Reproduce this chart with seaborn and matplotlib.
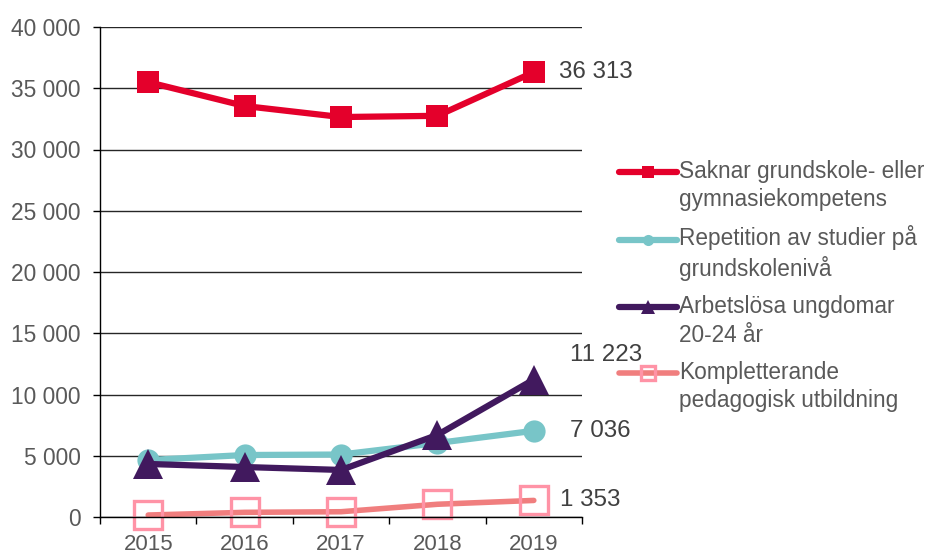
import matplotlib

matplotlib.use("Agg")
import matplotlib.pyplot as plt
import numpy as np
import pandas as pd
import seaborn as sns
from matplotlib.legend_handler import HandlerLine2D
from matplotlib.ticker import FixedLocator, FuncFormatter


years = ["2015", "2016", "2017", "2018", "2019"]
saknar = [35500, 33550, 32650, 32750, 36313]
repetition = [4650, 5060, 5100, 6040, 7036]
arbetslosa = [4330, 4080, 3840, 6700, 11223]
kompletterande = [160, 380, 430, 1040, 1353]

series_names = [
    "Saknar grundskole- eller\ngymnasiekompetens",
    "Repetition av studier på\ngrundskolenivå",
    "Arbetslösa ungdomar\n20-24 år",
    "Kompletterande\npedagogisk utbildning",
]
series_values = [saknar, repetition, arbetslosa, kompletterande]
end_labels = ["36 313", "7 036", "11 223", "1 353"]

sns.set_theme(style="white")
plt.rcParams["font.family"] = ["Liberation Sans", "DejaVu Sans"]

GREY = "#595959"
styles = [
    dict(color="#E4002B", marker="s", ms=16.5, mfc="#E4002B", mec="#E4002B", mew=0, lw=4.5),
    dict(color="#78C5C8", marker="o", ms=16, mfc="#78C5C8", mec="#78C5C8", mew=0, lw=4.5),
    dict(color="#41195E", marker="^", ms=21, mfc="#41195E", mec="#41195E", mew=0, lw=4.5),
    dict(color="#F07E7E", marker="s", ms=20, mfc="none", mec="#FF93A6", mew=2.4, lw=4.0),
]
label_offsets = [(18, 0), (26, 0), (26, 18), (19, 0)]


class FirstLineHandler(HandlerLine2D):
    # put the legend line next to the first text line instead of the middle
    def create_artists(self, legend, orig_handle, xdescent, ydescent, width, height,
                       fontsize, trans):
        shift = 0.66 * fontsize
        return super().create_artists(legend, orig_handle, xdescent, ydescent - 2 * shift,
                                      width, height, fontsize, trans)


frame = pd.DataFrame(
    {
        "pos": np.tile(np.arange(len(years)), len(series_names)),
        "value": np.concatenate(series_values),
        "serie": np.repeat(series_names, len(years)),
    }
)

fig = plt.figure(figsize=(9.28, 5.54), dpi=100)
ax = fig.add_axes([100 / 928, 37 / 554, 482 / 928, 490 / 554])

for name, style, label, offset in zip(series_names, styles, end_labels, label_offsets):
    part = frame[frame["serie"] == name]
    sns.lineplot(
        data=part,
        x="pos",
        y="value",
        ax=ax,
        color=style["color"],
        linewidth=style["lw"],
        marker=style["marker"],
        markersize=style["ms"],
        markerfacecolor=style["mfc"],
        markeredgecolor=style["mec"],
        markeredgewidth=style["mew"],
        label=name,
        solid_capstyle="round",
        clip_on=False,
    )
    ax.annotate(
        label,
        xy=(part["pos"].iloc[-1], part["value"].iloc[-1]),
        xytext=offset,
        textcoords="offset points",
        ha="left",
        va="center",
        fontsize=17.4,
        color="#404040",
    )

ax.set_xlim(-0.5, len(years) - 0.5)
ax.set_ylim(0, 40000)
ax.set_xticks(range(len(years)))
ax.set_xticklabels(years)
ax.xaxis.set_minor_locator(FixedLocator(np.arange(-0.5, len(years), 1.0)))
ax.tick_params(axis="x", which="major", length=0, pad=12, labelsize=16, colors=GREY)
ax.tick_params(axis="x", which="minor", length=5, width=1, color="black", direction="out",
               bottom=True)
ax.set_yticks(np.arange(0, 40001, 5000))
ax.yaxis.set_major_formatter(FuncFormatter(lambda v, _: f"{int(v):,}".replace(",", " ")))
ax.tick_params(axis="y", length=5, width=1, color="black", direction="out", pad=9,
               labelsize=16.4, labelcolor=GREY, left=True)
ax.grid(axis="y", color="#262626", linewidth=1)
ax.set_axisbelow(True)
for side in ["top", "right"]:
    ax.spines[side].set_visible(False)
for side in ["left", "bottom"]:
    ax.spines[side].set_color("black")
    ax.spines[side].set_linewidth(1)
ax.set_xlabel("")
ax.set_ylabel("")

h, l = ax.get_legend_handles_labels()
leg = ax.legend(
    h,
    l,
    handler_map={type(h[0]): FirstLineHandler()},
    loc="upper left",
    bbox_to_anchor=(619 / 928, 1 - 160 / 554),
    bbox_transform=fig.transFigure,
    frameon=False,
    borderpad=0,
    borderaxespad=0,
    fontsize=16.3,
    labelcolor=GREY,
    markerscale=0.5,
    handlelength=2.55,
    handletextpad=0.1,
    labelspacing=0.62,
)
for txt in leg.get_texts():
    txt.set_linespacing(1.3)

fig.savefig("out.png", dpi=100)
